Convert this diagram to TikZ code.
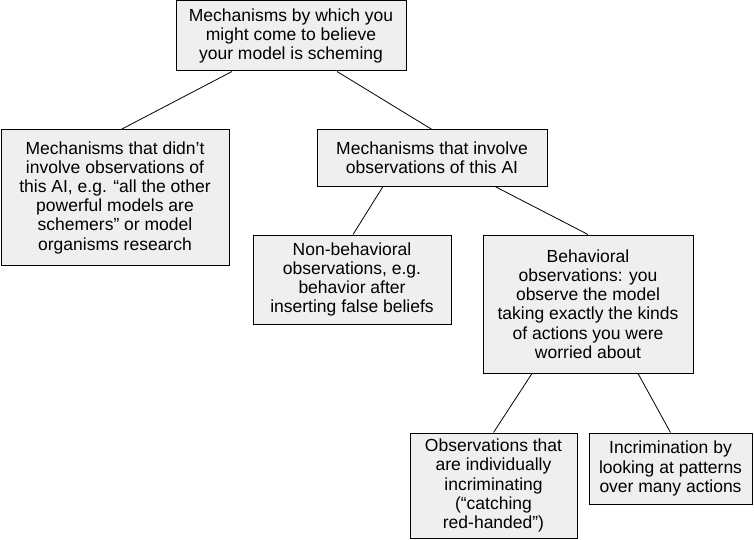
\documentclass[tikz,border=0pt]{standalone}
\usepackage{fontspec}
\setmainfont{Liberation Sans}
\definecolor{boxfill}{HTML}{EFEFEF}
\begin{document}
\begin{tikzpicture}[x=1pt,y=-1pt,
  box/.style={draw=black,line width=1pt,fill=boxfill,align=center,inner sep=0pt,
    font=\fontsize{17.5}{19.2}\selectfont},
  link/.style={draw=black,line width=0.8pt}]
\useasboundingbox (0,0) rectangle (754,540);
\node[box,minimum width=230pt,minimum height=70pt] (b1) at (291,36)
  {Mechanisms by which you\\might come to believe\\your model is scheming};
\node[box,minimum width=228pt,minimum height=135pt] (b2) at (115,197.5)
  {Mechanisms that didn’t\\involve observations of\\this AI, e.g. “all the other\\powerful models are\\schemers” or model\\organisms research};
\node[box,minimum width=230pt,minimum height=56pt] (b3) at (432,158)
  {Mechanisms that involve\\observations of this AI};
\node[box,minimum width=198pt,minimum height=89pt] (b4) at (352,279.5)
  {Non-behavioral\\observations, e.g.\\behavior after\\inserting false beliefs};
\node[box,minimum width=210pt,minimum height=138pt] (b5) at (588,304)
  {Behavioral\\observations: you\\observe the model\\taking exactly the kinds\\of actions you were\\worried about};
\node[box,minimum width=167pt,minimum height=105pt] (b6) at (493.5,485.5)
  {Observations that\\are individually\\incriminating\\(“catching\\red-handed”)};
\node[box,minimum width=163pt,minimum height=71pt] (b7) at (670.5,468.5)
  {Incrimination by\\looking at patterns\\over many actions};
\draw[link] ([xshift=-59pt]b1.south) -- ([xshift=6pt]b2.north);
\draw[link] ([xshift=46pt]b1.south) -- (b3.north);
\draw[link] ([xshift=-49pt]b3.south) -- ([xshift=1pt]b4.north);
\draw[link] ([xshift=63pt]b3.south) -- (b5.north);
\draw[link] ([xshift=-56pt]b5.south) -- (b6.north);
\draw[link] ([xshift=50pt]b5.south) -- (b7.north);
\end{tikzpicture}
\end{document}
